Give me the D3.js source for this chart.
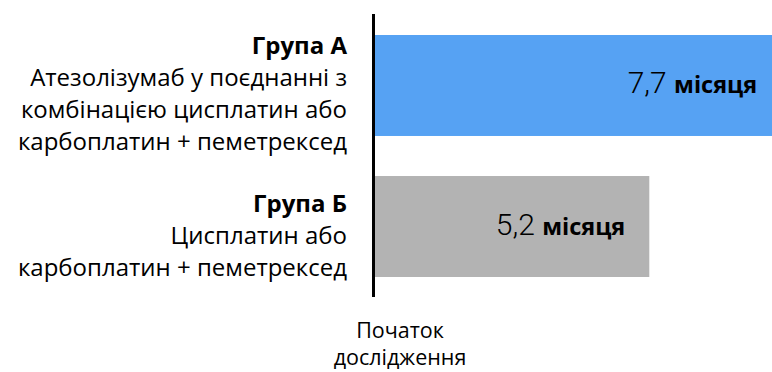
<!DOCTYPE html>
<html>
<head>
<meta charset="utf-8">
<script src="https://cdn.jsdelivr.net/npm/d3@7"></script>
<style>
  html, body { margin: 0; padding: 0; background: #ffffff; }
  svg { display: block; }
</style>
</head>
<body>
<script>
// Median time on treatment, months
const groups = ["Група А", "Група Б"];
const descriptions = [
  ["Атезолізумаб у поєднанні з", "комбінацією цисплатин або", "карбоплатин + пеметрексед"],
  ["Цисплатин або", "карбоплатин + пеметрексед"]
];
const months = [7.7, 5.2];
const valueLabels = ["7,7", "5,2"];
const unitLabel = "місяця";
const barColors = ["#56A2F3", "#B3B3B3"];
const axisLabel = ["Початок", "дослідження"];

const W = 772, H = 372;
const labelFont = "'Open Sans', 'Noto Sans', sans-serif";

const svg = d3.select("body").append("svg")
  .attr("width", W).attr("height", H)
  .attr("viewBox", `0 0 ${W} ${H}`);

const x = d3.scaleLinear().domain([0, 8]).range([375, 797]);
const y = d3.scaleBand().domain(groups).range([35, 277]).paddingInner(0.284);

const rows = groups.map((g, i) => ({
  group: g, lines: descriptions[i], value: months[i],
  valueText: valueLabels[i], color: barColors[i]
}));

// bars, clipped at the page edge
svg.append("g").selectAll("rect").data(rows).join("rect")
  .attr("x", x(0))
  .attr("y", d => y(d.group))
  .attr("width", d => x(d.value) - x(0))
  .attr("height", y.bandwidth())
  .attr("fill", d => d.color);

// baseline axis at the start of follow-up
svg.append("line")
  .attr("x1", x(0) - 1.5).attr("x2", x(0) - 1.5)
  .attr("y1", 14).attr("y2", 297)
  .attr("stroke", "#000").attr("stroke-width", 3);

// value labels inside bars
const vl = svg.append("g").selectAll("text").data(rows).join("text")
  .attr("x", d => x(d.value) - 24)
  .attr("y", d => y(d.group) + y.bandwidth() / 2 + 8)
  .attr("text-anchor", "end")
  .attr("fill", "#000");
vl.append("tspan")
  .attr("font-family", "Roboto, sans-serif")
  .attr("font-weight", 300)
  .attr("font-size", 30)
  .text(d => d.valueText + " ");
vl.append("tspan")
  .attr("font-family", labelFont)
  .attr("font-weight", 700)
  .attr("font-size", 23.5)
  .text(unitLabel);

// group labels on the left
const labelX = 347;
const lineStep = 32;
const lg = svg.append("g").selectAll("text").data(rows).join("text")
  .attr("text-anchor", "end")
  .attr("font-family", labelFont)
  .attr("font-size", 24)
  .attr("fill", "#000")
  .attr("x", labelX)
  .attr("y", d => {
    const c = y(d.group) + y.bandwidth() / 2;
    return c - d.lines.length * lineStep / 2 + 17;
  });
lg.append("tspan").attr("x", labelX).attr("font-weight", 700).text(d => d.group);
lg.each(function(d) {
  d3.select(this).selectAll("tspan.line").data(d.lines).join("tspan")
    .attr("class", "line")
    .attr("x", labelX)
    .attr("dy", lineStep)
    .text(t => t);
});

// axis caption, one text per line
svg.append("g")
  .attr("text-anchor", "middle")
  .attr("font-family", labelFont)
  .attr("font-size", 21.5)
  .attr("fill", "#000")
  .selectAll("text").data(axisLabel).join("text")
  .attr("x", 400)
  .attr("y", (d, i) => 338 + i * 27)
  .text(d => d);
</script>
</body>
</html>
